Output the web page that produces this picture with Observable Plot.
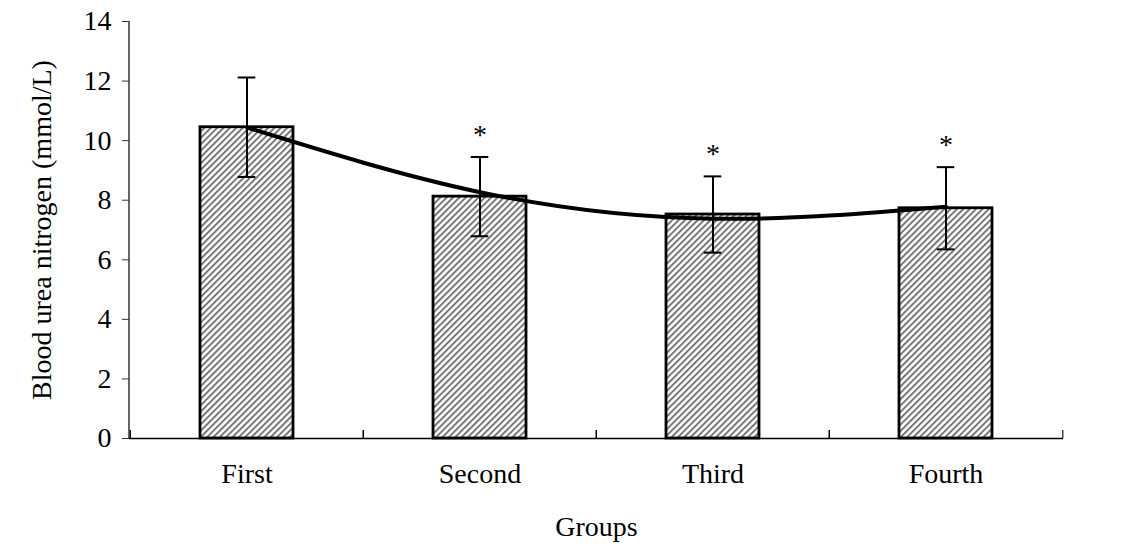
<!DOCTYPE html>
<html>
<head>
<meta charset="utf-8">
<script src="https://cdn.jsdelivr.net/npm/d3@7"></script>
<script src="https://cdn.jsdelivr.net/npm/@observablehq/plot@0.6"></script>
<style>
  html, body { margin: 0; padding: 0; background: #fff; }
  #chart { width: 1125px; height: 550px; }
</style>
</head>
<body>
<div id="chart"></div>
<script>
// Blood urea nitrogen by group: mean ± SD, with a fitted trend curve
const groups = ["First", "Second", "Third", "Fourth"];
const means = [10.45, 8.12, 7.52, 7.73];
const sds = [1.67, 1.33, 1.28, 1.38];
const significant = [false, true, true, true];
const trendValues = [10.44, 8.27, 7.38, 7.78];
const yTicks = [0, 2, 4, 6, 8, 10, 12, 14];
const yLabel = "Blood urea nitrogen (mmol/L)";
const xLabel = "Groups";

const rows = groups.map((g, i) => ({
  group: g,
  mean: means[i],
  lo: means[i] - sds[i],
  hi: means[i] + sds[i],
  sig: significant[i],
  trend: trendValues[i]
}));

const width = 1125, height = 550;
const marginLeft = 129, marginRight = 62, marginTop = 21, marginBottom = 112;
const step = (width - marginLeft - marginRight) / groups.length;
const capWidth = 18;
const bandFrac = 0.4;
const fontSize = 28;

// diagonal hatch fill for the bars
function hatchDefs() {
  const defs = d3.create("svg:defs");
  const p = defs.append("pattern")
    .attr("id", "hatch")
    .attr("patternUnits", "userSpaceOnUse")
    .attr("width", 4.5).attr("height", 4.5)
    .attr("patternTransform", "rotate(45)");
  p.append("rect").attr("width", 4.5).attr("height", 4.5).attr("fill", "#ffffff");
  p.append("line")
    .attr("x1", 1).attr("y1", 0).attr("x2", 1).attr("y2", 4.5)
    .attr("stroke", "#727272").attr("stroke-width", 1.9);
  return defs.node();
}

// left axis line drawn along the frame edge
function leftAxisLine(index, scales, values, dims) {
  return d3.create("svg:line")
    .attr("x1", dims.marginLeft).attr("x2", dims.marginLeft)
    .attr("y1", dims.marginTop).attr("y2", dims.height - dims.marginBottom)
    .attr("stroke", "#333").attr("stroke-width", 1.5)
    .node();
}

const capInset = (step * bandFrac - capWidth) / 2;

const chart = Plot.plot({
  width, height, marginLeft, marginRight, marginTop, marginBottom,
  style: { fontFamily: "'Liberation Serif', 'Times New Roman', serif", fontSize: fontSize + "px", background: "#fff", color: "#000" },
  x: { domain: groups, paddingInner: 1 - bandFrac, paddingOuter: (1 - bandFrac) / 2, label: null },
  y: { domain: [0, 14], label: null },
  marks: [
    hatchDefs,
    Plot.barY(rows, { x: "group", y: "mean", fill: "url(#hatch)", stroke: "#000", strokeWidth: 2.8 }),
    // boundary ticks between categories (pointing up)
    Plot.ruleX(rows, { x: "group", y1: 0, y2: 0.27, dx: -step / 2, stroke: "#000", strokeWidth: 1.5 }),
    Plot.ruleX(rows.slice(-1), { x: "group", y1: 0, y2: 0.27, dx: step / 2, stroke: "#444", strokeWidth: 1.5 }),
    Plot.ruleY([0], { stroke: "#000", strokeWidth: 1.5 }),
    leftAxisLine,
    Plot.line(rows, { x: "group", y: "trend", curve: "natural", stroke: "#000", strokeWidth: 4 }),
    Plot.ruleX(rows, { x: "group", y1: "lo", y2: "hi", stroke: "#000", strokeWidth: 2 }),
    Plot.tickY(rows, { x: "group", y: "hi", stroke: "#000", strokeWidth: 2, insetLeft: capInset, insetRight: capInset }),
    Plot.tickY(rows, { x: "group", y: "lo", stroke: "#000", strokeWidth: 2, insetLeft: capInset, insetRight: capInset }),
    Plot.text(rows.filter(d => d.sig), { x: "group", y: "hi", text: () => "*", dy: -22, fontSize: 28, fill: "#000" }),
    Plot.axisY({ ticks: yTicks, tickSize: 7, tickPadding: 11, fontSize, label: null, stroke: "#333" }),
    Plot.axisX({ tickSize: 0, tickPadding: 25, fontSize, label: null }),
    Plot.text([xLabel], { frameAnchor: "bottom", dy: 97, fontSize, fill: "#000" }),
    Plot.text([yLabel], { frameAnchor: "left", textAnchor: "middle", dx: -87, rotate: -90, fontSize, fill: "#000" })
  ]
});

document.getElementById("chart").appendChild(chart);
</script>
</body>
</html>
